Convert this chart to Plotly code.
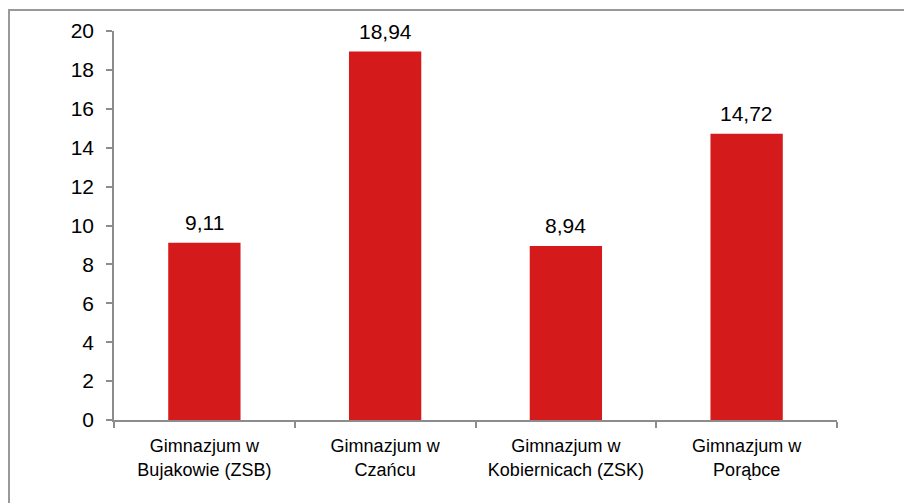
import plotly.graph_objects as go

categories = ["Gimnazjum w<br>Bujakowie (ZSB)", "Gimnazjum w<br>Czańcu",
              "Gimnazjum w<br>Kobiernicach (ZSK)", "Gimnazjum w<br>Porąbce"]
values = [9.11, 18.94, 8.94, 14.72]
y_ticks = [0, 2, 4, 6, 8, 10, 12, 14, 16, 18, 20]

# page body has an 8px default margin, so the figure is sized/offset to compensate
W, H = 904, 495
L, R, T, B = 106, 75, 23, 83
pw, ph = W - L - R, H - T - B
FONT = "Liberation Sans, Arial"

fig = go.Figure()
fig.add_trace(go.Bar(
    x=categories, y=values,
    marker=dict(color="#D41A1B", line=dict(width=0)),
    width=0.4,
))

for c, v in zip(categories, values):
    fig.add_annotation(
        x=c, y=v, xref="x", yref="y",
        text=f"{v:.2f}".replace(".", ","),
        showarrow=False, yanchor="bottom", yshift=7,
        font=dict(family=FONT, size=21, color="#000"),
    )

axis_color = "#8c8c8c"
fig.update_layout(
    width=W, height=H,
    margin=dict(l=L, r=R, t=T, b=B, autoexpand=False),
    paper_bgcolor="white", plot_bgcolor="white",
    showlegend=False,
    font=dict(family=FONT, color="#000"),
    xaxis=dict(
        showline=True, linecolor=axis_color, linewidth=1.5,
        ticks="outside", ticklen=6, tickcolor=axis_color, tickwidth=1.5,
        tickson="boundaries",
        tickfont=dict(size=18),
        ticklabelstandoff=9,
        showgrid=False,
    ),
    yaxis=dict(
        range=[0, 20], tickvals=y_ticks,
        showline=True, linecolor=axis_color, linewidth=1.5,
        ticks="outside", ticklen=6, tickcolor=axis_color, tickwidth=1.5,
        tickfont=dict(size=21),
        ticklabelstandoff=8,
        showgrid=False, zeroline=False,
    ),
    shapes=[dict(
        type="rect", xref="paper", yref="paper",
        x0=-(L - 1) / pw, x1=1.5, y0=-1, y1=1 + (T - 2) / ph,
        line=dict(color="#999999", width=2), fillcolor="rgba(0,0,0,0)",
        layer="below",
    )],
)

fig.write_html("out.html")
